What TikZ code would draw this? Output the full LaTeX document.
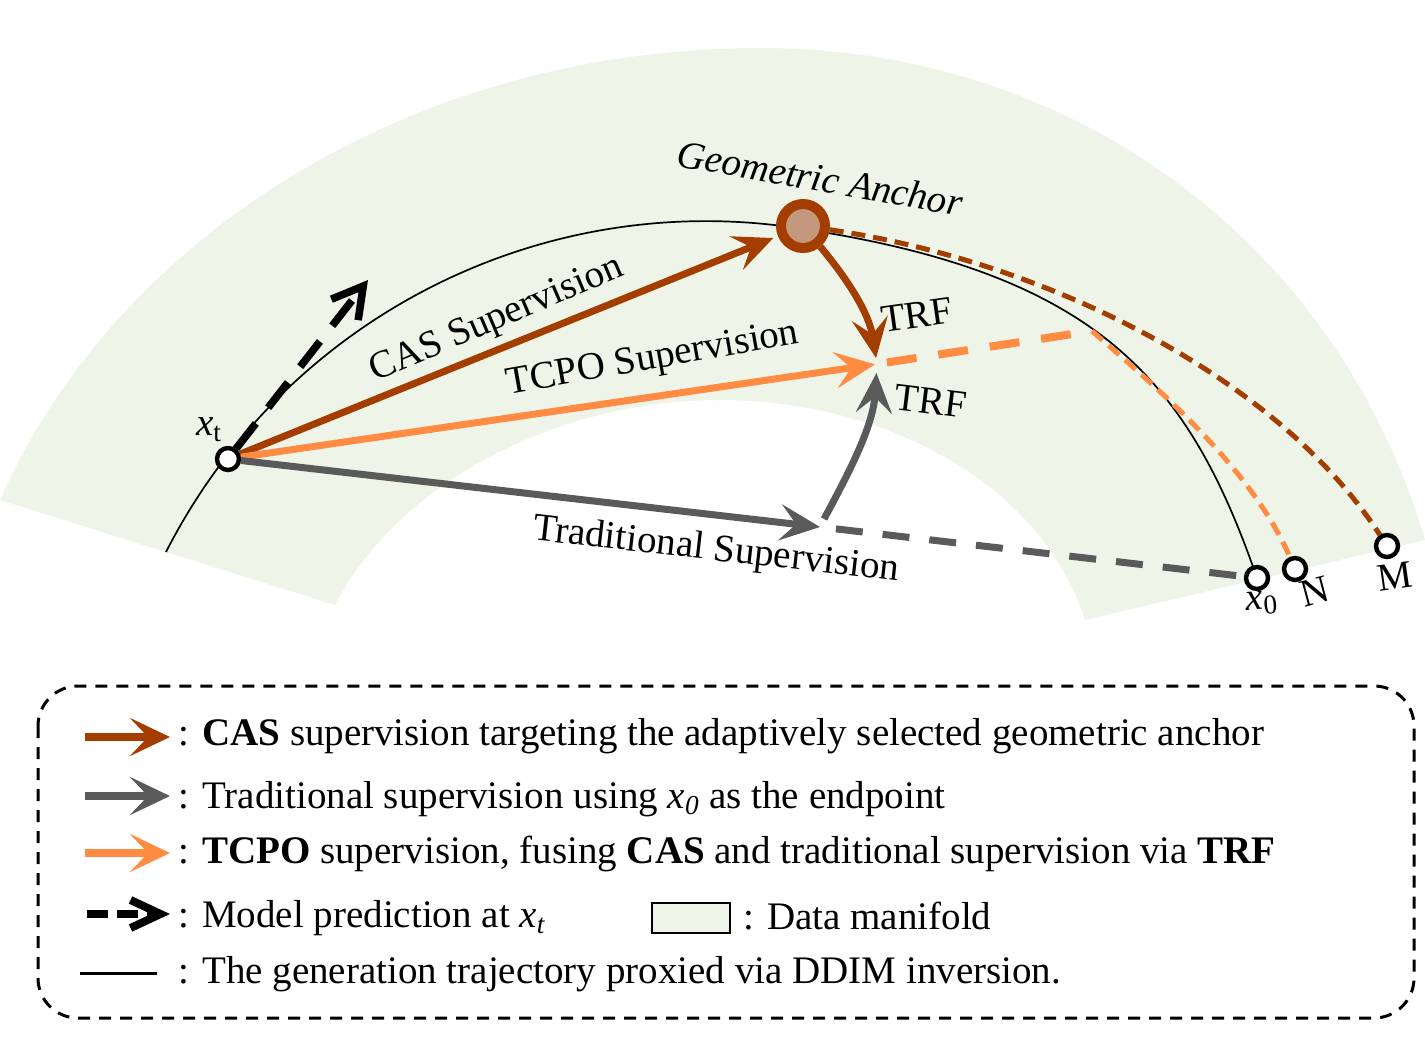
\documentclass[tikz,border=0pt]{standalone}
\usepackage{fontspec}
\setmainfont{Liberation Serif}
\usetikzlibrary{arrows.meta}
\definecolor{cbrown}{RGB}{163,62,0}
\definecolor{corange}{RGB}{255,140,66}
\definecolor{cgray}{RGB}{90,90,90}
\definecolor{cgreen}{RGB}{238,245,232}
\definecolor{canchor}{RGB}{196,152,124}
\pgfdeclarelayer{band}
\pgfdeclarelayer{lines}
\pgfsetlayers{band,lines,main}
\begin{document}
\begin{tikzpicture}[x=0.5pt,y=-0.5pt,
  lbl/.style={font=\fontsize{19.5}{23}\selectfont, inner sep=0pt},
  headS/.style={-{Stealth[length=20pt,width=18pt,inset=8pt]}},
  arrbrown/.style={draw=cbrown, line width=3.5pt, headS},
  arrorange/.style={draw=corange, line width=3.5pt, headS},
  arrgray/.style={draw=cgray, line width=3.5pt, headS},
  predarrow/.style={draw=black, line width=3.8pt, dash pattern=on 16pt off 10pt, -{Straight Barb[length=15pt,width=17pt]}},
  traj/.style={draw=black, line width=0.85pt},
  thindash/.style={line width=2.5pt, dash pattern=on 7pt off 4pt},
  dot/.style={circle, draw=black, fill=white, line width=2.2pt, minimum size=11pt, inner sep=0pt},
  anchorc/.style={circle, draw=cbrown, fill=canchor, line width=5pt, minimum size=22pt, inner sep=0pt},
  leghead/.style={-{Stealth[length=20pt,width=19pt,inset=9pt]}, line width=4pt}
]
\useasboundingbox (0,0) rectangle (1425,1040);

% nodes
\node[dot] (xt) at (228,459) {};
\node[anchorc] (anc) at (803,226) {};
\node[dot] (x0) at (1257,578) {};
\node[dot] (N) at (1295,569) {};
\node[dot] (M) at (1387,546) {};
\coordinate (trf) at (877,364);
\coordinate (gt) at (820,527);
\coordinate (gs) at (824,519);
\coordinate (oc) at (1092,331);
\coordinate (ptip) at (368,280);
\coordinate (ts) at (166,552);

\begin{pgfonlayer}{band}
\fill[cgreen] (0,500) .. controls (120,230) and (420,48) .. (760,48)
  .. controls (1080,48) and (1340,250) .. (1425,540) -- (1085,620)
  .. controls (1040,480) and (880,400) .. (720,400)
  .. controls (560,400) and (400,480) .. (335,605) -- cycle;
\end{pgfonlayer}

\begin{pgfonlayer}{lines}
\draw[traj] (ts) arc[start angle=207, end angle=279.2, radius=606]
  .. controls (1100,274) and (1189,382) .. (x0.center);
\draw[cbrown, thindash] (anc.-8) .. controls (1050,262) and (1280,380) .. (M);
\draw[corange, thindash] (oc) .. controls (1150,382) and (1250,465) .. (N);
\draw[corange, line width=4pt, dash pattern=on 15pt off 11pt, shorten <=5pt] (trf) -- (oc);
\draw[cgray, line width=3.5pt, dash pattern=on 13.5pt off 10pt, shorten <=8pt] (gt) -- (x0);
\draw[predarrow] (xt) -- (ptip);
\draw[arrbrown, shorten >=2.5pt] (xt) -- (anc);
\draw[arrorange, shorten >=1pt] (xt) -- (trf);
\draw[arrgray] (xt) -- (gt);
\draw[arrbrown, shorten >=3pt] (anc.-50) .. controls (848,280) and (869,313) .. (trf);
\draw[arrgray, shorten >=4.5pt] (gs) .. controls (846,478) and (873,428) .. (trf);
\end{pgfonlayer}

% labels
\node[lbl, rotate=23] (lcas) at (497,320) {CAS Supervision};
\node[lbl, rotate=10] (ltcpo) at (653,360) {TCPO Supervision};
\node[lbl, rotate=-6.5] (ltrad) at (716,551) {Traditional Supervision};
\node[lbl, rotate=-10, font=\fontsize{19.5}{23}\selectfont\itshape] (lgeo) at (820,178) {Geometric Anchor};
\node[lbl, rotate=8] (ltrf1) at (917,315) {TRF};
\node[lbl, rotate=-7] (ltrf2) at (931,401) {TRF};
\node[lbl] (lxt) at (209,430) {\textit{x}\textsubscript{t}};
\node[lbl, rotate=5] (lx0) at (1262,603) {\textit{x}\textsubscript{0}};
\node[lbl, rotate=15] (lN) at (1315,592) {N};
\node[lbl, rotate=8] (lM) at (1395,576) {M};

% legend
\draw[line width=1.5pt, dash pattern=on 6pt off 4.5pt, rounded corners=20pt] (38,686) rectangle (1414,1018);
\draw[cbrown, leghead] (85,737) -- (170,737);
\draw[cgray, leghead] (85,796) -- (170,796);
\draw[corange, leghead] (85,853) -- (170,853);
\draw[black, line width=4pt, dash pattern=on 10.5pt off 4.5pt, -{Straight Barb[length=15pt,width=14pt]}] (87,914) -- (170,914);
\draw[black, line width=1.5pt] (80,973) -- (157,973);
\node[lbl, anchor=base west] (t1) at (178,745) {: \textbf{CAS} supervision targeting the adaptively selected geometric anchor};
\node[lbl, anchor=base west] (t2) at (178,808) {: Traditional supervision using \textit{x\textsubscript{0}} as the endpoint};
\node[lbl, anchor=base west] (t3) at (178,863) {: \textbf{TCPO} supervision, fusing \textbf{CAS} and traditional supervision via \textbf{TRF}};
\node[lbl, anchor=base west] (t4) at (178,927) {: Model prediction at \textit{x\textsubscript{t}}};
\node[draw=black, fill=cgreen, line width=0.8pt, minimum width=39pt, minimum height=15pt, inner sep=0pt] (mf) at (691,918) {};
\node[lbl, anchor=base west] (t5) at (743,929) {: Data manifold};
\node[lbl, anchor=base west] (t6) at (178,983) {: The generation trajectory proxied via DDIM inversion.};
\end{tikzpicture}
\end{document}
